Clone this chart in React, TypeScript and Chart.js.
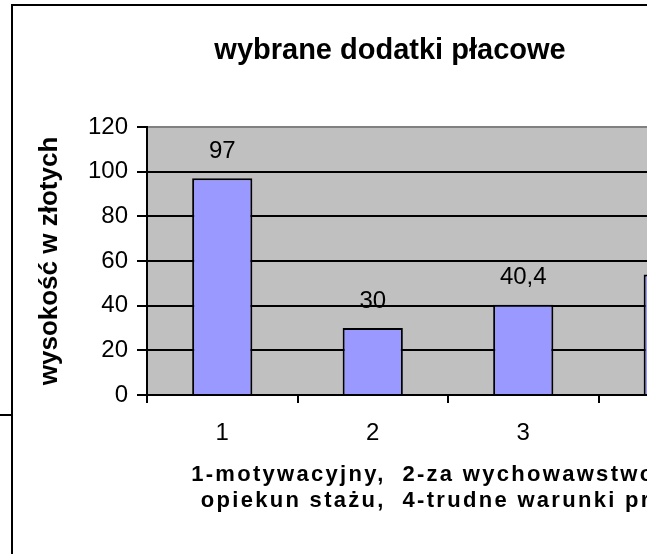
import React, { useEffect, useRef } from "react";
import { Chart, registerables } from "chart.js";

Chart.register(...registerables);

const categories = ["1", "2", "3", "4"];
const values = [97, 30, 40.4, 54];
const yTicks = [0, 20, 40, 60, 80, 100, 120];
const chartTitle = "wybrane dodatki płacowe";
const yTitle = "wysokość w złotych";
const xTitleLines = [
  "1-motywacyjny,  2-za wychowawstwo,  3-",
  "opiekun stażu,  4-trudne warunki pracy",
];

const FONT = "Arial, 'Liberation Sans', sans-serif";
const CW = 756;
const CH = 570;

const bgPlugin = {
  id: "plotBg",
  beforeDraw(chart: any) {
    const { ctx, chartArea: a } = chart;
    ctx.save();
    ctx.fillStyle = "#C0C0C0";
    ctx.fillRect(a.left, a.top, a.right - a.left, a.bottom - a.top);
    ctx.restore();
  },
};

const labelPlugin = {
  id: "barLabels",
  afterDatasetsDraw(chart: any) {
    const ctx = chart.ctx;
    const meta = chart.getDatasetMeta(0);
    ctx.save();
    ctx.font = `24px ${FONT}`;
    ctx.fillStyle = "#000";
    ctx.textAlign = "center";
    ctx.textBaseline = "middle";
    meta.data.forEach((el: any, i: number) => {
      ctx.fillText(String(values[i]).replace(".", ","), el.x, el.y - 27);
    });
    ctx.restore();
  },
};

const xTitlePlugin = {
  id: "xTitleLines",
  afterDraw(chart: any) {
    const ctx = chart.ctx;
    const a = chart.chartArea;
    const cx = (a.left + a.right) / 2;
    ctx.save();
    ctx.font = `bold 22px ${FONT}`;
    (ctx as any).letterSpacing = "2.3px";
    ctx.textAlign = "center";
    ctx.textBaseline = "middle";
    ctx.fillStyle = "#000";
    xTitleLines.forEach((line, i) => {
      ctx.fillText(line, cx, a.bottom + 80 + i * 26);
    });
    ctx.restore();
  },
};

function BarChart() {
  const ref = useRef<HTMLCanvasElement | null>(null);
  useEffect(() => {
    if (!ref.current) return;
    const chart = new Chart(ref.current, {
      type: "bar",
      data: {
        labels: categories,
        datasets: [
          {
            data: values,
            backgroundColor: "#9999FF",
            borderColor: "#000",
            borderWidth: 2,
            barPercentage: 0.8,
            categoryPercentage: 0.5,
          },
        ],
      },
      options: {
        responsive: false,
        animation: false,
        events: [],
        layout: { padding: { left: 18, right: 20, top: 0, bottom: CH - 389 - 60 } },
        plugins: {
          legend: { display: false },
          tooltip: { enabled: false },
          title: {
            display: true,
            text: chartTitle,
            color: "#000",
            font: { family: FONT, size: 29, weight: "bold", lineHeight: 1.2 },
            padding: { top: 27.6, bottom: 58.6 },
          },
        },
        scales: {
          x: {
            type: "category",
            grid: {
              offset: true,
              drawOnChartArea: false,
              drawTicks: true,
              tickLength: 8,
              color: "#000",
              lineWidth: 2,
            },
            border: { color: "#000", width: 2 },
            ticks: {
              color: "#000",
              font: { family: FONT, size: 24, lineHeight: 1.2 },
              padding: 15.6,
              maxRotation: 0,
            },
            afterFit: (s: any) => {
              s.height = 60;
            },
          },
          y: {
            min: yTicks[0],
            max: yTicks[yTicks.length - 1],
            ticks: {
              stepSize: yTicks[1] - yTicks[0],
              color: "#000",
              font: { family: FONT, size: 24 },
              padding: 9,
            },
            grid: {
              color: (c: any) =>
                c.tick && c.tick.value === yTicks[yTicks.length - 1] ? "#808080" : "#000",
              lineWidth: 2,
              tickLength: 10,
              tickColor: "#000",
              tickWidth: 2,
            },
            border: { color: "#000", width: 2 },
            title: {
              display: true,
              text: yTitle,
              color: "#000",
              font: { family: FONT, size: 26, weight: "bold", lineHeight: 1.2 },
              padding: { top: 3.4, bottom: 0 },
            },
            afterFit: (s: any) => {
              s.width = 116;
            },
          },
        },
      } as any,
      plugins: [bgPlugin, labelPlugin, xTitlePlugin],
    });
    return () => chart.destroy();
  }, []);
  return (
    <canvas
      ref={ref}
      width={CW}
      height={CH}
      style={{ display: "block", width: CW, height: CH }}
    />
  );
}

export default function App() {
  return (
    <div
      style={{
        position: "fixed",
        left: 0,
        top: 0,
        width: 647,
        height: 554,
        overflow: "hidden",
        background: "#fff",
      }}
    >
      <div
        style={{
          position: "absolute",
          left: 0,
          top: 414,
          width: 11,
          height: 2,
          background: "#000",
        }}
      />
      <div
        style={{
          position: "absolute",
          left: 11,
          top: 4,
          width: CW,
          height: CH,
          border: "2px solid #000",
          background: "#fff",
        }}
      >
        <BarChart />
      </div>
    </div>
  );
}
